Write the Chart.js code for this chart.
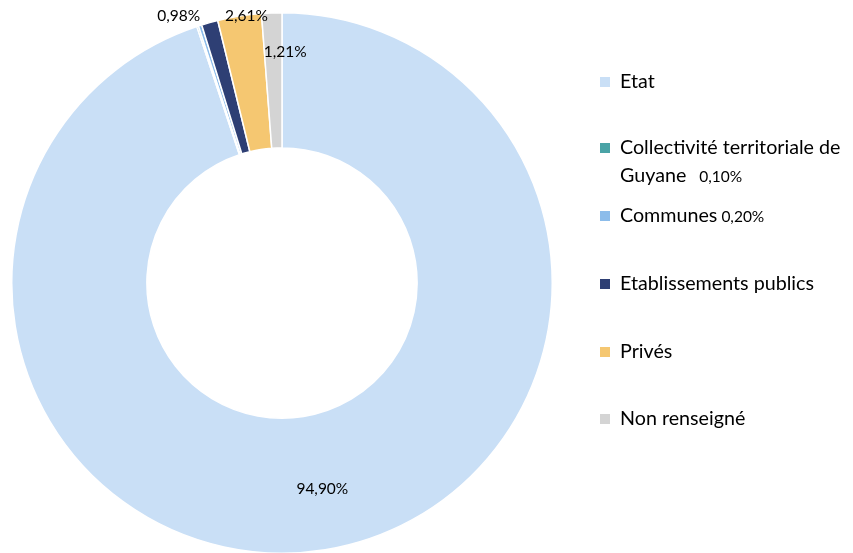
<!DOCTYPE html>
<html>
<head>
<meta charset="utf-8">
<script src="https://cdn.jsdelivr.net/npm/chart.js@4.4.0/dist/chart.umd.min.js"></script>
<style>
html,body{margin:0;padding:0;background:#fff;overflow:hidden;}
#wrap{width:853px;height:553px;position:relative;overflow:hidden;}
</style>
</head>
<body>
<div id="wrap"><canvas id="c" width="853" height="556"></canvas></div>
<script>
const categories = ["Etat", "Collectivité territoriale de Guyane", "Communes", "Etablissements publics", "Privés", "Non renseigné"];
const legendLines = [["Etat"], ["Collectivité territoriale de", "Guyane"], ["Communes"], ["Etablissements publics"], ["Privés"], ["Non renseigné"]];
const values = [94.90, 0.10, 0.20, 0.98, 2.61, 1.21];
const valueLabels = ["94,90%", "0,10%", "0,20%", "0,98%", "2,61%", "1,21%"];
const colors = ["#C9DFF6", "#4AA3A6", "#8CBCEA", "#2E3F74", "#F5C771", "#D4D4D4"];

const FONT = "Lato, 'Open Sans', sans-serif";

const labelPlugin = {
  id: 'labels',
  afterDatasetsDraw(chart) {
    const ctx = chart.ctx;
    const meta = chart.getDatasetMeta(0);
    ctx.save();
    ctx.fillStyle = '#000';
    ctx.font = "15.5px " + FONT;
    ctx.textBaseline = 'middle';
    const tweaks = {0: {r: 0.5, dx: 8, dy: 6, align: 'center'},
                    3: {r: 1.05, dx: -6, dy: 6, align: 'right'},
                    4: {r: 1.0, dx: 7, dy: 0, align: 'center'},
                    5: {r: 0.7, dx: 12, dy: -1, align: 'center'}};
    meta.data.forEach((arc, i) => {
      const t = tweaks[i];
      if (!t) return;
      const mid = (arc.startAngle + arc.endAngle) / 2;
      const rad = t.r >= 1 ? arc.outerRadius * t.r : arc.innerRadius + (arc.outerRadius - arc.innerRadius) * t.r;
      const x = arc.x + Math.cos(mid) * rad + t.dx;
      const y = arc.y + Math.sin(mid) * rad + t.dy;
      ctx.textAlign = t.align;
      ctx.fillText(valueLabels[i], x, y);
    });
    ctx.restore();
  }
};

const legendPlugin = {
  id: 'customLegend',
  afterDraw(chart) {
    const ctx = chart.ctx;
    const x0 = 600, tx = 620;
    const ys = [82, 148, 216, 284, 352, 419];
    const gaps = {1: 13, 2: 4};
    ctx.save();
    ctx.textBaseline = 'middle';
    ctx.textAlign = 'left';
    categories.forEach((c, i) => {
      const y = ys[i];
      ctx.fillStyle = colors[i];
      ctx.fillRect(x0, y - 5, 10, 10);
      ctx.fillStyle = '#000';
      ctx.font = "19.7px " + FONT;
      const lines = legendLines[i];
      let lastW = 0;
      lines.forEach((ln, k) => {
        ctx.fillText(ln, tx, y + k * 28);
        lastW = ctx.measureText(ln).width;
      });
      if (gaps[i] !== undefined) {
        ctx.font = "15.5px " + FONT;
        const ly = y + (lines.length - 1) * 28 + 1;
        ctx.fillText(valueLabels[i], tx + lastW + gaps[i], ly);
      }
    });
    ctx.restore();
  }
};

new Chart(document.getElementById('c'), {
  type: 'doughnut',
  data: {
    labels: categories,
    datasets: [{
      data: values,
      backgroundColor: colors,
      borderColor: '#ffffff',
      borderWidth: 1.5
    }]
  },
  options: {
    responsive: false,
    animation: false,
    cutout: '50%',
    layout: {padding: {left: 11, top: 12, right: 300, bottom: 2}},
    plugins: {legend: {display: false}, tooltip: {enabled: false}}
  },
  plugins: [labelPlugin, legendPlugin]
});
</script>
</body>
</html>
